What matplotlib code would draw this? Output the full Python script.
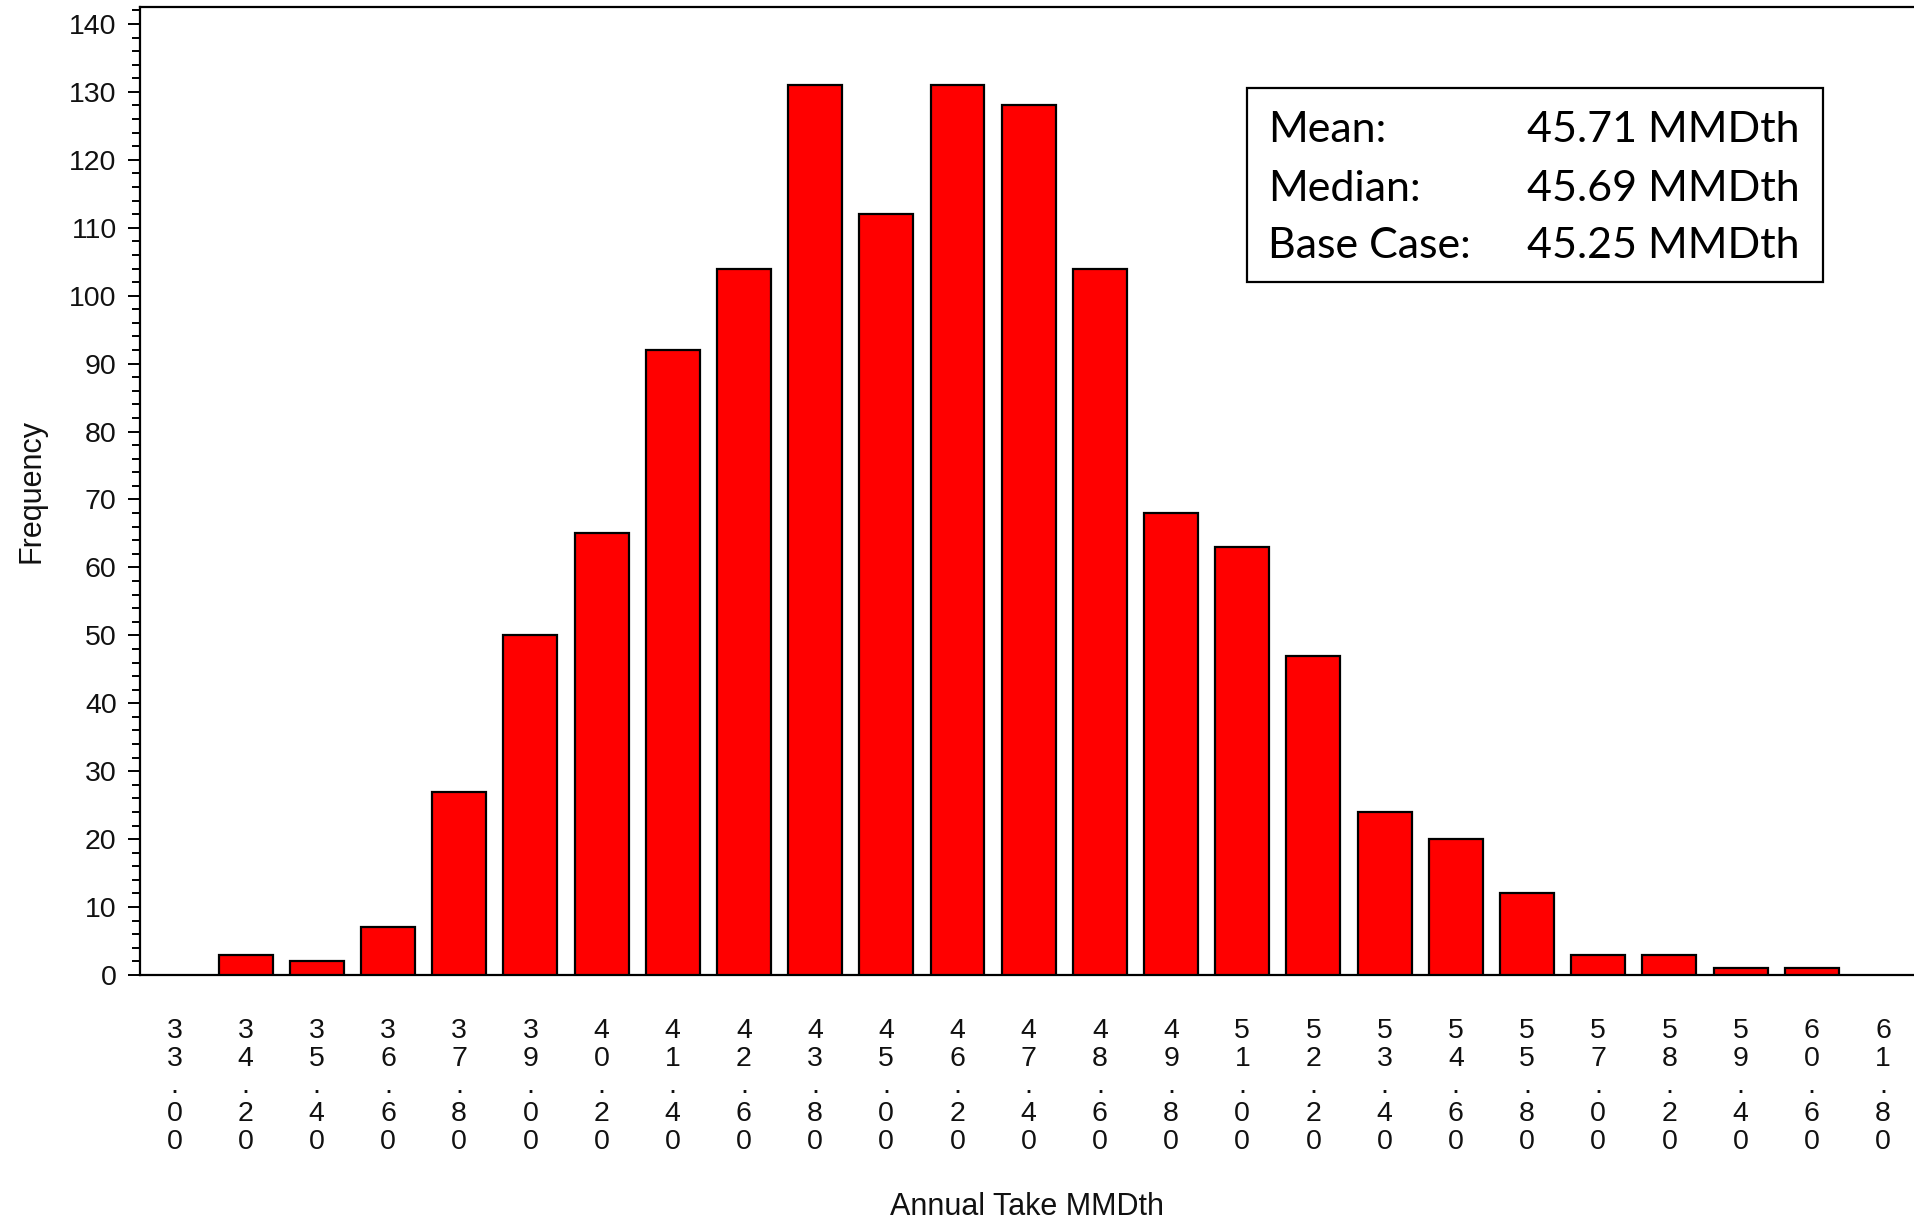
import matplotlib
matplotlib.use("Agg")
import matplotlib.pyplot as plt
from matplotlib.ticker import MultipleLocator

# ---- data ----
bin_centers = [34.2, 35.4, 36.6, 37.8, 39.0, 40.2, 41.4, 42.6, 43.8, 45.0, 46.2, 47.4,
               48.6, 49.8, 51.0, 52.2, 53.4, 54.6, 55.8, 57.0, 58.2, 59.4, 60.6]
frequency = [3, 2, 7, 27, 50, 65, 92, 104, 131, 112, 131, 128,
             104, 68, 63, 47, 24, 20, 12, 3, 3, 1, 1]
tick_values = [33.0, 34.2, 35.4, 36.6, 37.8, 39.0, 40.2, 41.4, 42.6, 43.8, 45.0, 46.2,
               47.4, 48.6, 49.8, 51.0, 52.2, 53.4, 54.6, 55.8, 57.0, 58.2, 59.4, 60.6, 61.8]
tick_labels = ["33.00", "34.20", "35.40", "36.60", "37.80", "39.00", "40.20", "41.40",
               "42.60", "43.80", "45.00", "46.20", "47.40", "48.60", "49.80", "51.00",
               "52.20", "53.40", "54.60", "55.80", "57.00", "58.20", "59.40", "60.60", "61.80"]
stat_names = ["Mean:", "Median:", "Base Case:"]
stat_values = ["45.71 MMDth", "45.69 MMDth", "45.25 MMDth"]

W, H = 1915, 1221
fig = plt.figure(figsize=(W / 100, H / 100), dpi=100)
fig.patch.set_facecolor("white")

ax_left, ax_right, ax_top, ax_bottom = 140, 1915, 7, 975
ax = fig.add_axes([ax_left / W, 1 - ax_bottom / H, (ax_right - ax_left) / W, (ax_bottom - ax_top) / H])

ax.bar(bin_centers, frequency, width=0.91, color="#ff0000", edgecolor="black", linewidth=1.6, zorder=3)

ax.set_xlim(32.42, 62.34)
ax.set_ylim(0, 142.5)

tick_font = "Liberation Sans"
ax.yaxis.set_major_locator(MultipleLocator(10))
ax.yaxis.set_minor_locator(MultipleLocator(2))
ax.tick_params(axis="y", which="major", direction="out", length=8.8, width=1.4, pad=8,
               labelsize=20.5, colors="black")
ax.tick_params(axis="y", which="minor", direction="out", length=5.6, width=1.4)
for lab in ax.get_yticklabels():
    lab.set_fontfamily(tick_font)
    lab.set_color("#111111")

ax.set_xticks(tick_values)
ax.set_xticklabels(["\n".join(list(s)) for s in tick_labels], fontfamily=tick_font,
                   fontsize=20.5, linespacing=1.085, color="#111111")
ax.tick_params(axis="x", which="both", length=0, pad=31)

for side in ["left", "top", "bottom"]:
    ax.spines[side].set_linewidth(1.6)
    ax.spines[side].set_color("black")
ax.spines["right"].set_visible(False)

fig.text(32 / W, 1 - 491 / H, "Frequency", rotation=90, ha="center", va="center",
         fontfamily=tick_font, fontsize=22, color="#111111")
fig.text(1027 / W, 1 - 1207 / H, "Annual Take MMDth", ha="center", va="center",
         fontfamily=tick_font, fontsize=22, color="#111111")

# stats box
bx0, bx1, by0, by1 = 1247, 1823, 88, 282
box = plt.Rectangle((bx0 / W, 1 - by1 / H), (bx1 - bx0) / W, (by1 - by0) / H,
                    transform=fig.transFigure, facecolor="white", edgecolor="black",
                    linewidth=1.6, zorder=10)
fig.patches.append(box)
row_y = [130, 189, 246]
for name, val, yy in zip(stat_names, stat_values, row_y):
    fig.text(1268 / W, 1 - yy / H, name, ha="left", va="center", fontfamily="Lato",
             fontsize=31, color="black", zorder=11)
    fig.text(1800 / W, 1 - yy / H, val, ha="right", va="center", fontfamily="Lato",
             fontsize=31, color="black", zorder=11)

fig.savefig("out.png", dpi=100)
